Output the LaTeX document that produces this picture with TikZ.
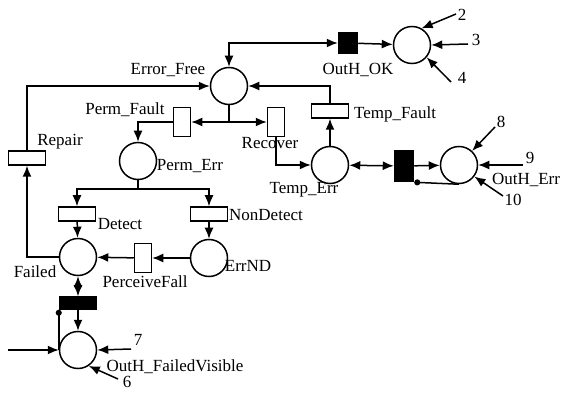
\documentclass[tikz,border=0pt]{standalone}
\usepackage{fontspec}
\setmainfont{Liberation Serif}
\usetikzlibrary{arrows.meta}
\tikzset{
  place/.style={circle,draw,line width=1.5pt,minimum size=37pt,inner sep=0pt},
  htrans/.style={rectangle,draw,line width=1.5pt,minimum width=37pt,minimum height=14pt,inner sep=0pt},
  vtrans/.style={rectangle,draw,line width=1.5pt,minimum width=17pt,minimum height=29pt,inner sep=0pt},
  lbl/.style={inner sep=0pt,font=\fontsize{17}{18}\selectfont},
}
\begin{document}
\begin{tikzpicture}[x=1pt,y=-1pt,line width=1.5pt,>={Latex[length=11pt,width=9pt]}]
      \useasboundingbox (0,0) rectangle (563,393);
      % places
      \node[place] (errfree) at (229,86) {};
      \node[place] (okplace) at (412,45) {};
      \node[place] (permerr) at (138,161) {};
      \node[place] (temperr) at (330,165) {};
      \node[place] (errplace) at (459,165) {};
      \node[place] (failed) at (78,257) {};
      \node[place] (errnd) at (209,258) {};
      \node[place] (visplace) at (78,350) {};
      % transitions
      \node[vtrans,fill=black,minimum width=19pt,minimum height=21pt] (tok) at (348,43) {};
      \node[vtrans] (permfault) at (182,122) {};
      \node[vtrans] (recover) at (276,122) {};
      \node[htrans] (repair) at (27,158) {};
      \node[htrans] (tempfault) at (330,111) {};
      \node[vtrans,fill=black,minimum width=19pt,minimum height=31pt] (terr) at (404,166) {};
      \node[htrans] (detect) at (77,214) {};
      \node[htrans] (nondetect) at (209,214) {};
      \node[vtrans] (perceive) at (143,258) {};
      \node[htrans,fill=black,minimum height=12pt] (tvis) at (78,303) {};
      % labels
      \node[lbl] (lerrfree) at (168,70) {Error\_Free};
      \node[lbl] (lpermfault) at (125,110) {Perm\_Fault};
      \node[lbl] (lrepair) at (60,142) {Repair};
      \node[lbl] (lpermerr) at (190,166) {Perm\_Err};
      \node[lbl] (lrecover) at (270,143) {Recover};
      \node[lbl] (ltempfault) at (395,114) {Temp\_Fault};
      \node[lbl] (lok) at (358,70) {OutH\_OK};
      \node[lbl] (ltemperr) at (304,190) {Temp\_Err};
      \node[lbl] (lerr) at (526,180) {OutH\_Err};
      \node[lbl] (ldetect) at (120,224) {Detect};
      \node[lbl] (lnondetect) at (266,215) {NonDetect};
      \node[lbl] (lerrnd) at (248,266) {ErrND};
      \node[lbl] (lfailed) at (35,272) {Failed};
      \node[lbl] (lperceive) at (145,282) {PerceiveFall};
      \node[lbl] (lvis) at (175,367) {OutH\_FailedVisible};
      \node[lbl] (n2) at (462,15) {2};
      \node[lbl] (n3) at (476,40) {3};
      \node[lbl] (n4) at (462,78) {4};
      \node[lbl] (n8) at (501,122) {8};
      \node[lbl] (n9) at (530,158) {9};
      \node[lbl] (n10) at (513,200) {10};
      \node[lbl] (n7) at (138,340) {7};
      \node[lbl] (n6) at (127,382) {6};
      % free ends
      \coordinate (in2) at (456,14);
      \coordinate (in3) at (468,44);
      \coordinate (in4) at (451,82);
      \coordinate (in8) at (495,127);
      \coordinate (in9) at (523,165);
      \coordinate (in10) at (503,196);
      \coordinate (in7) at (131,349);
      \coordinate (in6) at (118,379);
      \coordinate (inl) at (8,350);
      \coordinate (pj) at (138,189);
      \begin{scope}[->]
        \draw[<->] (errfree.north) |- (tok.west);
        \draw (tok) -- (okplace);
        \draw (errfree.south) |- (permfault.east);
        \draw (errfree.south) |- (recover.west);
        \draw (permfault.west) -| (permerr.north);
        \draw (recover.south) |- (temperr.west);
        \draw (temperr) -- (tempfault);
        \draw (tempfault.north) |- (errfree.east);
        \draw (repair.north) |- (errfree.west);
        \draw (failed.west) -| (repair.south);
        \draw[-] (permerr) -- (pj);
        \draw (pj) -| (detect.north);
        \draw (pj) -| (nondetect.north);
        \draw (detect) -- (failed);
        \draw (nondetect) -- (errnd);
        \draw (errnd) -- (perceive);
        \draw (perceive) -- (failed);
        \draw[<->] (failed) -- (tvis);
        \draw (tvis) -- (visplace);
        \draw[{Circle[length=6pt]}-] (tvis.south west) -- (visplace.west);
        \draw (inl) -- (visplace.west);
        \draw (in7) -- (visplace.east);
        \draw (in6) -- (visplace.-56);
        \draw (in2) -- (okplace.60);
        \draw (in3) -- (okplace.east);
        \draw (in4) -- (okplace.-40);
        \draw[<->] (temperr) -- (terr);
        \draw (terr) -- (errplace);
        \draw[{Circle[length=6pt]}-] (terr.south east) -- (errplace.south);
        \draw (in8) -- (errplace.47);
        \draw (in9) -- (errplace.east);
        \draw (in10) -- (errplace.-37);
      \end{scope}
    \end{tikzpicture}
\end{document}
